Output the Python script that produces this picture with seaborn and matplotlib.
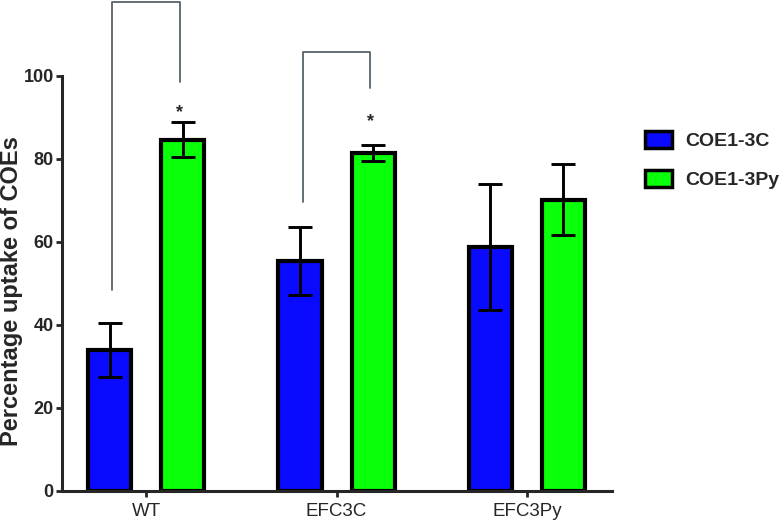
import matplotlib
matplotlib.use("Agg")
import matplotlib.pyplot as plt
from matplotlib.patches import Patch
import pandas as pd
import seaborn as sns

# data
strains = ["WT", "EFC3C", "EFC3Py"]
compounds = ["COE1-3C", "COE1-3Py"]
uptake_3c = [33.9, 55.4, 58.7]
uptake_3py = [84.6, 81.4, 70.1]
err_3c = [6.4, 8.2, 15.1]
err_3py = [4.2, 2.0, 8.6]

# significance brackets: (strain, left foot, right foot, top), star height
brackets = [("WT", 48.3, 98.4, 117.7, 91.2), ("EFC3C", 69.5, 97.0, 105.8, 89.0)]

BLUE = "#0a0aff"
GREEN = "#0aff0a"

df = pd.DataFrame({
    "strain": strains * 2,
    "compound": [compounds[0]] * 3 + [compounds[1]] * 3,
    "uptake": uptake_3c + uptake_3py,
})

sns.set_style("ticks")
plt.rcParams["font.family"] = ["Liberation Sans", "DejaVu Sans"]

fig = plt.figure(figsize=(7.79, 5.26), dpi=100)
ax = fig.add_axes([62 / 779, 1 - 490.7 / 526, 550 / 779, 415 / 526])

sns.barplot(data=df, x="strain", y="uptake", hue="compound",
            palette=[BLUE, GREEN], saturation=1, width=0.768, gap=0.41,
            edgecolor="black", linewidth=3, errorbar=None,
            legend=False, ax=ax, zorder=2)

# error bars centred on the bars seaborn placed
centers = {}
for cont, errs, comp in zip(ax.containers, [err_3c, err_3py], compounds):
    for bar, e, s in zip(cont, errs, strains):
        cx = bar.get_x() + bar.get_width() / 2
        centers[(s, comp)] = cx
        ax.errorbar(cx, bar.get_height(), yerr=e, color="black",
                    elinewidth=2.1, capsize=8.3, capthick=2.1, zorder=3)

for s, yl, yr, top, ystar in brackets:
    xl = centers[(s, compounds[0])] + 0.015
    xr = centers[(s, compounds[1])] - 0.015
    ax.plot([xl, xl, xr, xr], [yl, top, top, yr], color="#56636a",
            lw=1.3, clip_on=False, zorder=1)
    ax.text(xr, ystar, "*", ha="center", va="center", fontsize=13,
            fontweight="bold")

ax.set_ylim(0, 100)
ax.set_xlim(-0.442, 2.447)
ax.set_yticks([0, 20, 40, 60, 80, 100])
ax.tick_params(axis="y", length=4, width=2, pad=2, labelsize=13)
ax.tick_params(axis="x", length=4, width=2, pad=5, labelsize=13.5)
for lab in ax.get_yticklabels():
    lab.set_fontweight("bold")
sns.despine(ax=ax)
for sp in ["left", "bottom"]:
    ax.spines[sp].set_linewidth(2.2)

ax.set_xlabel("")
ax.set_ylabel("Percentage uptake of COEs", fontsize=17, fontweight="bold")
ax.yaxis.set_label_coords(-0.07, 0.48)

handles = [Patch(facecolor=BLUE, edgecolor="black", linewidth=2.5),
           Patch(facecolor=GREEN, edgecolor="black", linewidth=2.5)]
leg = fig.legend(handles, compounds, loc="upper left",
                 bbox_to_anchor=(645 / 779, 1 - 131 / 526), frameon=False,
                 borderpad=0, borderaxespad=0, handlelength=1.4,
                 handleheight=1.0, handletextpad=0.65, labelspacing=1.0,
                 prop={"size": 14, "weight": "bold"})

fig.savefig("out.png", dpi=100)
